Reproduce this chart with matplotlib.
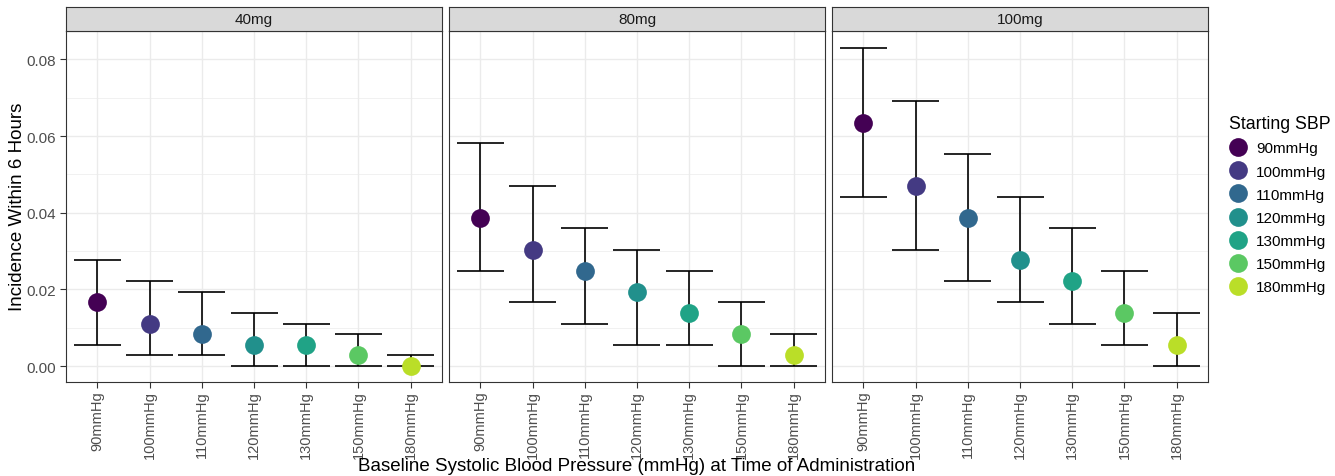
import numpy as np
import matplotlib
matplotlib.use("Agg")
import matplotlib.pyplot as plt
from matplotlib.lines import Line2D
from matplotlib.ticker import MultipleLocator, FormatStrFormatter

plt.rcParams['font.family'] = ['Liberation Sans', 'DejaVu Sans']

doses = ["40mg", "80mg", "100mg"]
sbp = ["90mmHg", "100mmHg", "110mmHg", "120mmHg", "130mmHg", "150mmHg", "180mmHg"]
colors = ["#440154", "#443A83", "#31688E", "#21908C", "#20A386", "#5BC863", "#BADE28"]

# incidence estimate and interval, per dose panel
est_40 = [0.0166, 0.0110, 0.0083, 0.0055, 0.0055, 0.0028, 0.0000]
low_40 = [0.0055, 0.0028, 0.0028, 0.0000, 0.0000, 0.0000, 0.0000]
up_40 = [0.0276, 0.0221, 0.0193, 0.0138, 0.0110, 0.0083, 0.0028]

est_80 = [0.0387, 0.0304, 0.0249, 0.0193, 0.0138, 0.0083, 0.0028]
low_80 = [0.0249, 0.0166, 0.0110, 0.0055, 0.0055, 0.0000, 0.0000]
up_80 = [0.0581, 0.0470, 0.0359, 0.0304, 0.0249, 0.0166, 0.0083]

est_100 = [0.0635, 0.0470, 0.0387, 0.0276, 0.0221, 0.0138, 0.0055]
low_100 = [0.0442, 0.0304, 0.0221, 0.0166, 0.0110, 0.0055, 0.0000]
up_100 = [0.0829, 0.0691, 0.0552, 0.0442, 0.0359, 0.0249, 0.0138]

panels = [(est_40, low_40, up_40), (est_80, low_80, up_80), (est_100, low_100, up_100)]

W, H = 1335, 477
fig = plt.figure(figsize=(W / 100, H / 100), dpi=100)

lefts = [66, 449, 832]
pw = 376
ptop, pbot = 32, 383
strip_h = 24
ymin, ymax = -0.00416, 0.0874

for i, (est, low, up) in enumerate(panels):
    ax = fig.add_axes([lefts[i] / W, 1 - pbot / H, pw / W, (pbot - ptop) / H])
    x = np.arange(len(sbp))
    ax.set_xlim(-0.6, len(sbp) - 0.4)
    ax.set_ylim(ymin, ymax)
    ax.yaxis.set_major_locator(MultipleLocator(0.02))
    ax.yaxis.set_minor_locator(MultipleLocator(0.01))
    ax.yaxis.set_major_formatter(FormatStrFormatter('%.2f'))
    ax.grid(True, which='major', color='#EBEBEB', lw=1.0, zorder=0)
    ax.grid(True, which='minor', axis='y', color='#EBEBEB', lw=0.5, zorder=0)
    ax.set_axisbelow(True)
    ax.set_xticks(x)
    ax.set_xticklabels(sbp, rotation=90, fontsize=10.5, color='#4D4D4D')
    ax.tick_params(axis='both', which='major', length=4, color='#333333', width=0.8)
    ax.tick_params(axis='x', pad=2)
    ax.tick_params(axis='y', which='minor', length=0)
    ax.tick_params(axis='y', labelsize=11, labelcolor='#4D4D4D')
    if i > 0:
        ax.tick_params(axis='y', which='both', left=False, labelleft=False)
    for s in ax.spines.values():
        s.set_color('#333333')
        s.set_linewidth(0.8)

    # error bars: ggplot default width 0.9
    ax.vlines(x, low, up, color='black', lw=1.2, zorder=2)
    ax.hlines(low, x - 0.45, x + 0.45, color='black', lw=1.2, zorder=2)
    ax.hlines(up, x - 0.45, x + 0.45, color='black', lw=1.2, zorder=2)
    for j in range(len(sbp)):
        ax.plot(x[j], est[j], 'o', ms=13.5, color=colors[j], mec='none', zorder=3)

    sax = fig.add_axes([lefts[i] / W, 1 - ptop / H, pw / W, strip_h / H])
    sax.set_facecolor('#D9D9D9')
    sax.set_xticks([])
    sax.set_yticks([])
    for s in sax.spines.values():
        s.set_color('#333333')
        s.set_linewidth(0.8)
    sax.text(0.5, 0.5, doses[i], ha='center', va='center', fontsize=11, color='#1A1A1A',
             transform=sax.transAxes)

fig.text(18 / W, 1 - 207 / H, "Incidence Within 6 Hours", rotation=90, ha='center', va='center',
         fontsize=13.5)
fig.text(637 / W, 1 - 467 / H, "Baseline Systolic Blood Pressure (mmHg) at Time of Administration",
         ha='center', va='center', fontsize=13.5)

handles = [Line2D([], [], marker='o', ls='none', ms=13.5, color=c, mec='none') for c in colors]
leg = fig.legend(handles, sbp, loc='upper left', bbox_to_anchor=(1217 / W, 1 - 104 / H),
                 frameon=False, title="Starting SBP", fontsize=11, title_fontsize=12.8,
                 handlelength=1.2, handletextpad=0.55, labelspacing=0.6, borderpad=0.3)
leg._legend_box.align = 'left'

fig.savefig("out.png", dpi=100)
